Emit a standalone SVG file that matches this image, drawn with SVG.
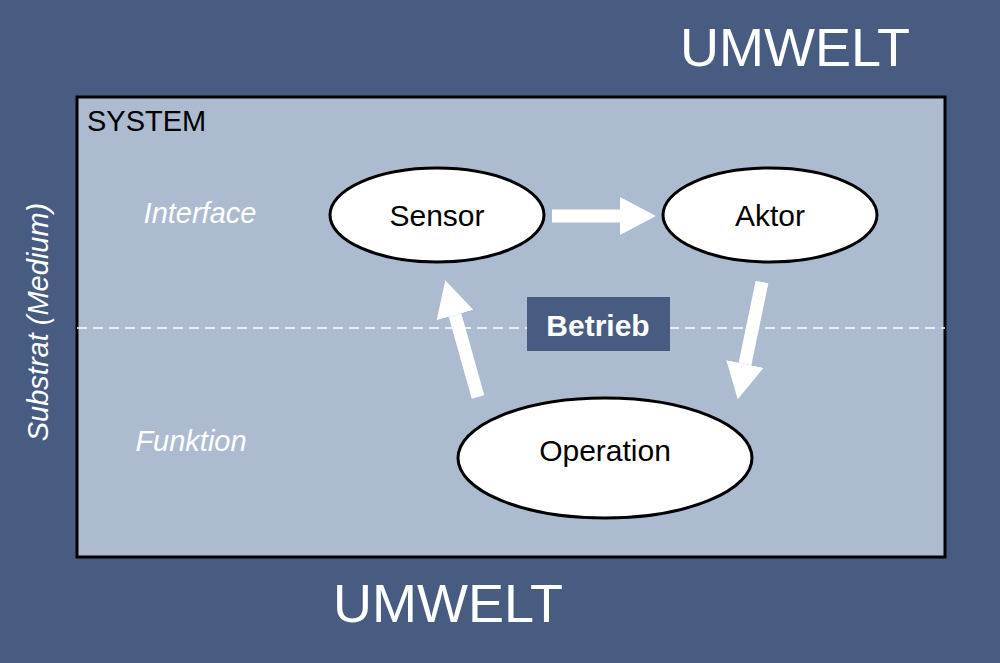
<svg xmlns="http://www.w3.org/2000/svg" width="1000" height="663" viewBox="0 0 1000 663">
<style>
.node ellipse{fill:#fff;stroke:#000;stroke-width:3}
.lbl{font-family:"Liberation Sans",Arial,sans-serif;fill:#000;font-size:30px;text-anchor:middle}
.w{font-family:"Liberation Sans",Arial,sans-serif;fill:#fff}
.it{font-family:"Liberation Sans",Arial,sans-serif;fill:#fff;font-style:italic;font-size:29px}
.arr{stroke:#fff;stroke-width:13;fill:none}
</style>
<defs>
<marker id="ah" markerUnits="userSpaceOnUse" markerWidth="36" markerHeight="38" refX="0" refY="19" orient="auto">
<polygon points="0,0 36,19 0,38" fill="#fff"/>
</marker>
</defs>
<rect x="0" y="0" width="1000" height="663" fill="#485c82"/>
<rect x="77" y="97" width="868" height="460" fill="#adbbd0" stroke="#000" stroke-width="3"/>
<line x1="77" y1="328" x2="945" y2="328" stroke="#fff" stroke-width="1.5" stroke-dasharray="10,6"/>
<text x="795" y="66" class="w" font-size="54" text-anchor="middle">UMWELT</text>
<text x="448" y="622" class="w" font-size="54" text-anchor="middle">UMWELT</text>
<text x="87" y="131" font-family="Liberation Sans,Arial,sans-serif" font-size="29" fill="#000">SYSTEM</text>
<text x="200" y="223" class="it" text-anchor="middle">Interface</text>
<text x="191" y="451" class="it" text-anchor="middle">Funktion</text>
<text transform="translate(48,322) rotate(-90)" class="it" text-anchor="middle">Substrat (Medium)</text>
<g id="connectors">
<line class="arr" x1="552" y1="216" x2="620" y2="216" marker-end="url(#ah)"/>
<line class="arr" x1="478" y1="397" x2="455" y2="315" marker-end="url(#ah)"/>
<line class="arr" x1="762" y1="282" x2="745" y2="364" marker-end="url(#ah)"/>
</g>
<g id="betrieb">
<rect x="527" y="297" width="143" height="54" fill="#485c82"/>
<text x="598" y="336" class="w" font-size="30" font-weight="bold" text-anchor="middle">Betrieb</text>
</g>
<g id="sensor" class="node"><ellipse cx="437" cy="215" rx="107" ry="47"/><text x="437" y="226" class="lbl">Sensor</text></g>
<g id="aktor" class="node"><ellipse cx="770" cy="215" rx="107" ry="47"/><text x="770" y="226" class="lbl">Aktor</text></g>
<g id="operation" class="node"><ellipse cx="605" cy="458" rx="147" ry="60"/><text x="605" y="461" class="lbl" font-size="31">Operation</text></g>
</svg>
